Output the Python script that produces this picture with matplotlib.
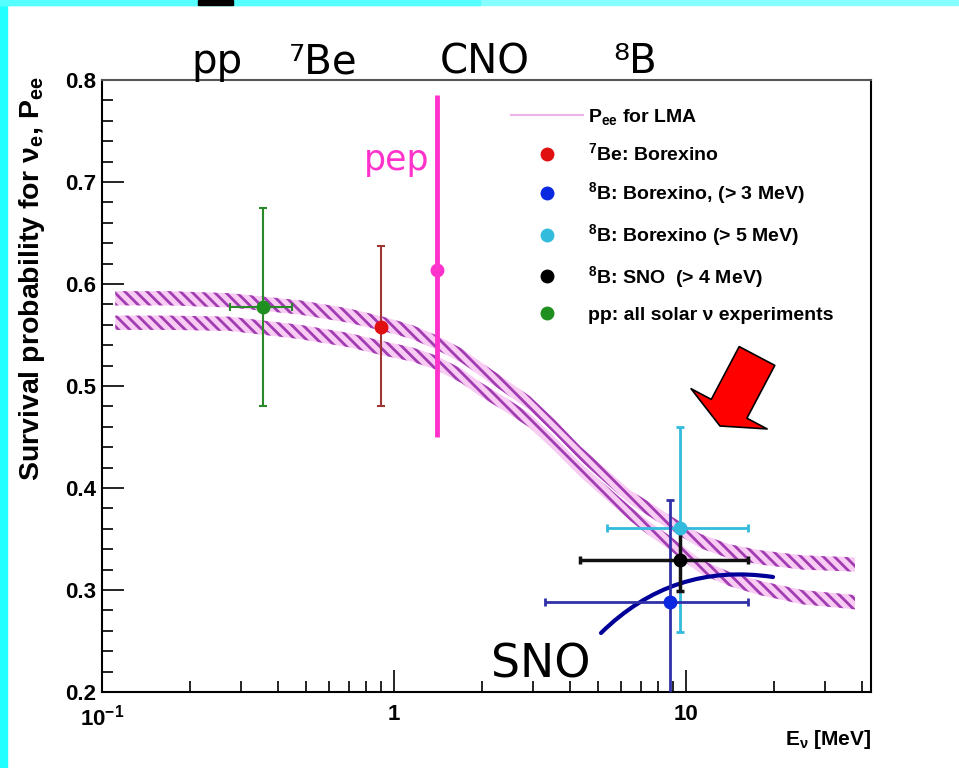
import numpy as np
import matplotlib
matplotlib.use('Agg')
import matplotlib.pyplot as plt
from matplotlib.patches import Rectangle
from matplotlib.lines import Line2D
from matplotlib.ticker import LogLocator, NullFormatter, MultipleLocator

plt.rcParams['mathtext.fontset'] = 'custom'
plt.rcParams['mathtext.rm'] = 'Liberation Sans:bold'
plt.rcParams['mathtext.it'] = 'Liberation Sans:bold'
plt.rcParams['mathtext.bf'] = 'Liberation Sans:bold'
plt.rcParams['mathtext.default'] = 'rm'
plt.rcParams['hatch.linewidth'] = 2.0

# LMA survival probability band (upper and lower edge), energies in MeV
band_e = [0.111, 0.17, 0.274, 0.476, 0.70, 0.916, 1.15, 1.39, 1.70, 1.97, 2.40, 2.92,
          3.55, 4.34, 5.30, 6.43, 7.50, 8.81, 11.2, 14.0, 17.9, 25.0, 37.9]
band_hi = [0.586, 0.586, 0.584, 0.577, 0.569, 0.561, 0.553, 0.543, 0.530, 0.517, 0.500, 0.483,
           0.460, 0.434, 0.412, 0.391, 0.379, 0.366, 0.348, 0.338, 0.332, 0.327, 0.325]
band_lo = [0.562, 0.562, 0.561, 0.553, 0.545, 0.537, 0.531, 0.523, 0.510, 0.497, 0.482, 0.466,
           0.443, 0.418, 0.396, 0.375, 0.360, 0.346, 0.323, 0.311, 0.302, 0.293, 0.288]
strip_half = 0.007

# measurements: energy, Pee, y error (low, high), x range (low, high)
pp_e, pp_p, pp_dy, pp_xr = 0.355, 0.577, (0.097, 0.098), (0.274, 0.448)
be7_e, be7_p, be7_dy = 0.90, 0.558, (0.078, 0.079)
pep_e, pep_p, pep_dy = 1.40, 0.614, (0.164, 0.171)
b8lo_e, b8lo_p, b8lo_dy, b8lo_xr = 8.8, 0.288, (0.10, 0.10), (3.3, 16.3)
b8hi_e, b8hi_p, b8hi_dy, b8hi_xr = 9.5, 0.361, (0.102, 0.099), (5.36, 16.3)
sno_e, sno_p, sno_dy, sno_xr = 9.5, 0.329, (0.03, 0.03), (4.34, 16.3)

legend_labels = ['P$_{ee}$ for LMA', '$^{7}$Be: Borexino', '$^{8}$B: Borexino, (> 3 MeV)',
                 '$^{8}$B: Borexino (> 5 MeV)', '$^{8}$B: SNO  (> 4 MeV)',
                 'pp: all solar \u03bd experiments']
source_labels = ['pp', '\u2077Be', 'CNO', '\u2078B']
source_x = [217, 323, 485, 635]

W, H = 959, 768
fig = plt.figure(figsize=(W / 100, H / 100), dpi=100)
fig.patch.set_facecolor('white')

# slide border
fig.patches.append(Rectangle((0, 0), 7 / W, 1, transform=fig.transFigure, color='#22ffff', zorder=0))
fig.patches.append(Rectangle((0, 1 - 5 / H), 1, 5 / H, transform=fig.transFigure, color='#88ffff', zorder=0))
fig.patches.append(Rectangle((0, 1 - 5 / H), 0.5, 5 / H, transform=fig.transFigure, color='#55ffff', zorder=0))
fig.patches.append(Rectangle((198 / W, 1 - 5 / H), 35 / W, 5 / H, transform=fig.transFigure, color='black', zorder=1))

ax = fig.add_axes([102 / W, (H - 692) / H, 769 / W, 612 / H])
ax.set_xscale('log')
ax.set_xlim(0.1, 43)
ax.set_ylim(0.2, 0.8)

# hatched LMA band edges
for edge in (band_hi, band_lo):
    e = np.array(edge)
    ax.fill_between(band_e, e - strip_half, e + strip_half, facecolor='#f9ccf4',
                    edgecolor='#a23cb2', hatch='\\\\\\', linewidth=0, zorder=2)

def meas(x, y, dy, xr, color, mcolor, lw=1.5, ms=9, cap=3):
    xerr = None
    if xr is not None:
        xerr = [[x - xr[0]], [xr[1] - x]]
    ax.errorbar([x], [y], yerr=[[dy[0]], [dy[1]]], xerr=xerr, fmt='o', color=color,
                mfc=mcolor, mec=mcolor, ms=ms, lw=lw, capsize=cap, capthick=lw, zorder=4)

meas(pp_e, pp_p, pp_dy, pp_xr, '#2a8a2a', '#1f8f1f')
meas(be7_e, be7_p, be7_dy, None, '#a03535', '#e01010')
meas(pep_e, pep_p, pep_dy, None, '#ff33cc', '#ff33cc', lw=3.5, ms=9, cap=0)
meas(b8hi_e, b8hi_p, b8hi_dy, b8hi_xr, '#33bbdd', '#33bbdd', lw=2)
meas(b8lo_e, b8lo_p, b8lo_dy, b8lo_xr, '#3030a8', '#0a28e0', lw=2)
meas(sno_e, sno_p, sno_dy, sno_xr, '#111111', '#000000', lw=2.5)

# axes styling
for s in ax.spines.values():
    s.set_linewidth(1.5)
ax.spines['top'].set_color('#555555')
ax.set_xticks([0.1, 1, 10])
ax.set_xticklabels(['10$^{-1}$', '1', '10'])
ax.xaxis.set_minor_locator(LogLocator(base=10, subs=np.arange(2, 10)))
ax.xaxis.set_minor_formatter(NullFormatter())
ax.set_yticks(np.arange(0.2, 0.81, 0.1))
ax.set_yticklabels(['%.1f' % v for v in np.arange(0.2, 0.81, 0.1)])
ax.yaxis.set_minor_locator(MultipleLocator(0.02))
ax.tick_params(which='both', direction='in', top=False, right=False, width=1.2)
ax.tick_params(which='major', length=16, labelsize=16)
ax.tick_params(which='minor', length=8)
ax.tick_params(axis='y', pad=4)
ax.tick_params(axis='x', pad=9)
for lab in ax.get_xticklabels() + ax.get_yticklabels():
    lab.set_fontfamily('Liberation Sans')
    lab.set_fontweight('bold')

ax.set_ylabel('Survival probability for $\\nu_e$, P$_{ee}$', fontsize=20.5,
              fontfamily='Liberation Sans', fontweight='bold')
ax.yaxis.set_label_coords(-0.071, 0.675)
ax.text(1.0, -0.078, 'E$_{\\nu}$ [MeV]', transform=ax.transAxes, ha='right', va='center',
        fontsize=15, fontfamily='Liberation Sans', fontweight='bold')

# legend
handles = [Line2D([], [], color='#eab4ea', lw=1.5)]
for c in ['#e01010', '#0a28e0', '#33bbdd', '#000000', '#1f8f1f']:
    handles.append(Line2D([], [], ls='none', marker='o', color=c, ms=9))
leg = ax.legend(handles, legend_labels, loc='upper left', bbox_to_anchor=(0.509, 0.985),
                frameon=False, handlelength=3.7, handletextpad=0.25, labelspacing=0.82,
                prop={'family': 'Liberation Sans', 'weight': 'bold', 'size': 14})

# source labels above the axes
for lab, x in zip(source_labels, source_x):
    fig.text(x / W, 1 - 73 / H, lab, ha='center', va='baseline', fontsize=29, color='black')

fig.text(397 / W, 1 - 170 / H, 'pep', ha='center', va='baseline', fontsize=25, color='#ff33cc')
fig.text(541 / W, 1 - 677 / H, 'SNO', ha='center', va='baseline', fontsize=33, color='black')

# curve from SNO label to the measurement
ax.annotate('', xy=(773, H - 577), xytext=(601, H - 633), xycoords='figure pixels',
            textcoords='figure pixels',
            arrowprops=dict(arrowstyle='-', color='#000099', lw=3,
                            connectionstyle='arc3,rad=-0.25', shrinkA=0, shrinkB=0))

# red block arrow
ax.annotate('', xy=(720, H - 426), xytext=(757, H - 356), xycoords='figure pixels',
            textcoords='figure pixels',
            arrowprops=dict(arrowstyle='simple,head_length=14,head_width=62,tail_width=29',
                            mutation_scale=1, fc='#ff0000', ec='black', lw=1.2,
                            shrinkA=0, shrinkB=0))

fig.savefig('out.png', dpi=100)
